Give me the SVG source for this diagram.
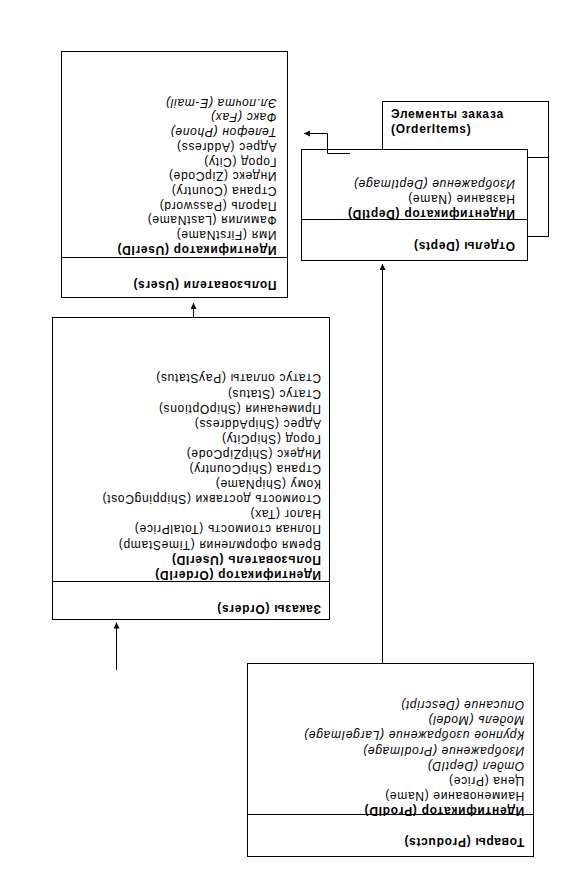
<svg xmlns="http://www.w3.org/2000/svg" width="568" height="893" viewBox="0 0 568 893">
<style>
  .box { fill: #ffffff; stroke: #000000; stroke-width: 1; }
  .ln { stroke: #000000; stroke-width: 1; fill: none; }
  text { font-family: "Liberation Sans", Arial, sans-serif; font-size: 12px; fill: #000000; letter-spacing: 0.7px; }
  .b { font-weight: bold; }
  .i { font-style: italic; }
  .conn { stroke: #000000; stroke-width: 1; fill: none; marker-end: url(#arr); }
</style>
<defs>
  <marker id="arr" markerUnits="userSpaceOnUse" markerWidth="8" markerHeight="8" refX="6" refY="3" orient="auto">
    <polygon points="0,0 6,3 0,6" fill="#000000"/>
  </marker>
</defs>
<rect width="568" height="893" fill="#ffffff"/>

<g id="node-orderitems">
  <rect class="box" x="382.5" y="101.5" width="166" height="135"/>
  <line class="ln" x1="382.5" y1="157.5" x2="548.5" y2="157.5"/>
  <text class="b" x="391" y="118">Элементы заказа</text>
  <text class="b" x="391" y="133">(OrderItems)</text>
</g>

<g id="rotated" transform="rotate(180 284 446.5)">
  <g id="node-users">
    <rect class="box" x="280.5" y="595.5" width="226" height="246"/>
    <line class="ln" x1="280.5" y1="635.5" x2="506.5" y2="635.5"/>
    <text class="b" x="291.5" y="612.3">Пользователи (Users)</text>
    <text class="b" x="291.5" y="647.3">Идентификатор (UserID)</text>
    <text x="291.5" y="662">Имя (FirstName)</text>
    <text x="291.5" y="676.7">Фамилия (LastName)</text>
    <text x="291.5" y="691.4">Пароль (Password)</text>
    <text x="291.5" y="706.1">Страна (Country)</text>
    <text x="291.5" y="720.8">Индекс (ZipCode)</text>
    <text x="291.5" y="735.5">Город (City)</text>
    <text x="291.5" y="750.2">Адрес (Address)</text>
    <text class="i" x="291.5" y="764.9">Телефон (Phone)</text>
    <text class="i" x="291.5" y="779.6">Факс (Fax)</text>
    <text class="i" x="291.5" y="794.3">Эл.почта (E-mail)</text>
  </g>
  <g id="node-orders">
    <rect class="box" x="238.5" y="273.5" width="277" height="302"/>
    <line class="ln" x1="238.5" y1="311.5" x2="515.5" y2="311.5"/>
    <text class="b" x="247" y="288.3">Заказы (Orders)</text>
    <text class="b" x="247" y="322.3">Идентификатор (OrderID)</text>
    <text class="b" x="247" y="337.4">Пользователь (UserID)</text>
    <text x="247" y="352.5">Время оформления (TimeStamp)</text>
    <text x="247" y="367.6">Полная стоимость (TotalPrice)</text>
    <text x="247" y="382.7">Налог (Tax)</text>
    <text x="247" y="397.8">Стоимость доставки (ShippingCost)</text>
    <text x="247" y="412.9">Кому (ShipName)</text>
    <text x="247" y="428">Страна (ShipCountry)</text>
    <text x="247" y="443.1">Индекс (ShipZipCode)</text>
    <text x="247" y="458.2">Город (ShipCity)</text>
    <text x="247" y="473.3">Адрес (ShipAddress)</text>
    <text x="247" y="488.4">Примечания (ShipOptions)</text>
    <text x="247" y="503.5">Статус (Status)</text>
    <text x="247" y="518.6">Статус оплаты (PayStatus)</text>
  </g>
  <g id="node-depts">
    <rect class="box" x="40.5" y="632.5" width="226" height="111"/>
    <line class="ln" x1="40.5" y1="673.5" x2="266.5" y2="673.5"/>
    <text class="b" x="53" y="650.6">Отделы (Depts)</text>
    <text class="b" x="53" y="683">Индентификатор (DeptID)</text>
    <text x="53" y="698">Название (Name)</text>
    <text class="i" x="53" y="713">Изображение (DeptImage)</text>
  </g>
  <g id="node-products">
    <rect class="box" x="34.5" y="36.5" width="286" height="193"/>
    <line class="ln" x1="34.5" y1="78.5" x2="320.5" y2="78.5"/>
    <text class="b" x="43.7" y="54.6">Товары (Products)</text>
    <text class="b" x="43.7" y="85.6">Идентификатор (ProdID)</text>
    <text x="43.7" y="100.8">Наименование (Name)</text>
    <text x="43.7" y="116">Цена (Price)</text>
    <text class="i" x="43.7" y="131.2">Отдел (DeptID)</text>
    <text class="i" x="43.7" y="146.4">Изображение (ProdImage)</text>
    <text class="i" x="43.7" y="161.6">Крупное изображение (LargeImage)</text>
    <text class="i" x="43.7" y="176.8">Модель (Model)</text>
    <text class="i" x="43.7" y="192">Описание (Descript)</text>
  </g>
</g>

<g id="connectors">
  <path class="conn" d="M193.5,318 V303"/>
  <path class="conn" d="M382.5,664 V264"/>
  <path class="conn" d="M116.5,670 V622.5"/>
  <path class="conn" d="M350,153.5 H327.5 V133.5 H304"/>
</g>
</svg>
